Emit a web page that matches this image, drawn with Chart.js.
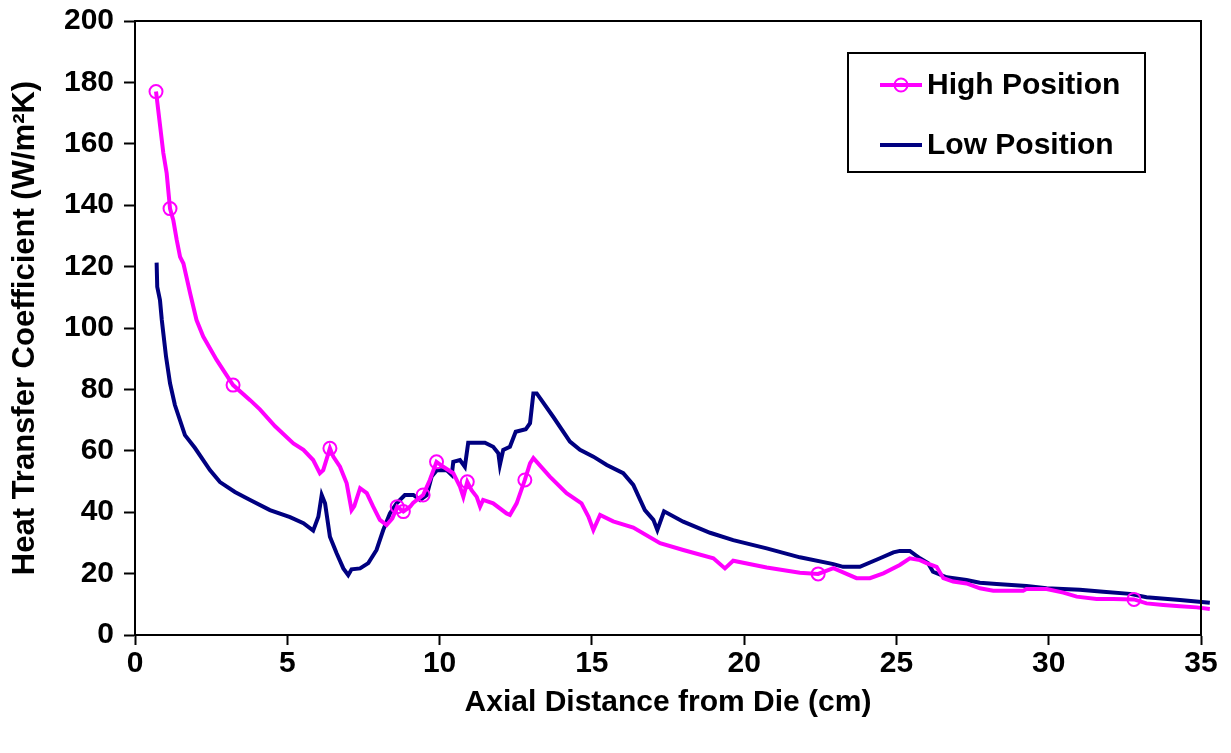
<!DOCTYPE html>
<html>
<head>
<meta charset="utf-8">
<title>Heat Transfer Coefficient</title>
<script src="https://cdn.jsdelivr.net/npm/chart.js@4"></script>
<style>
  html, body { margin: 0; padding: 0; background: #fff; }
  #wrap { position: relative; width: 1231px; height: 753px; }
</style>
</head>
<body>
<div id="wrap"><canvas id="htcChart"></canvas></div>
<script>
// values
const highX = [0.69, 0.93, 1.04, 1.15, 1.26, 1.37, 1.48, 1.59, 1.81, 2.02, 2.24, 2.68, 3.22, 3.78, 4.1, 4.6, 5.2, 5.53, 5.85, 6.07, 6.18, 6.4, 6.51, 6.73, 6.95, 7.11, 7.2, 7.39, 7.61, 7.82, 8.04, 8.26, 8.45, 8.61, 8.81, 9.03, 9.13, 9.46, 9.68, 9.9, 10.12, 10.45, 10.67, 10.78, 10.91, 11.05, 11.22, 11.33, 11.43, 11.76, 12.2, 12.31, 12.53, 12.8, 12.97, 13.08, 13.62, 14.17, 14.66, 14.89, 15.05, 15.27, 15.7, 16.36, 17.24, 18, 18.99, 19.37, 19.64, 20.74, 21.83, 22.43, 22.93, 23.69, 24.13, 24.57, 25.11, 25.44, 25.77, 25.99, 26.32, 26.54, 26.86, 27.3, 27.74, 28.18, 29.16, 29.27, 29.93, 30.48, 30.92, 31.57, 32.12, 32.8, 33.21, 33.76, 34.31, 34.86, 35.29];
const highY = [177, 157, 150.4, 138.9, 135, 128.7, 123.2, 121, 111.3, 102.6, 97.2, 89.6, 81.4, 76.5, 73.5, 68, 62.4, 60.3, 57, 52.7, 53.7, 60.8, 58.1, 54.8, 49.4, 40.7, 42, 47.8, 46.2, 41.8, 37.5, 35.8, 38, 41.8, 40.2, 41.8, 43, 45.6, 50.5, 56.4, 54.8, 52.7, 48.3, 45, 49.9, 47.2, 45, 41.8, 44, 42.9, 39.6, 39.1, 42.9, 50.5, 55.9, 57.6, 51.6, 46.2, 42.9, 38.5, 34.2, 39.1, 37, 35, 29.9, 27.7, 25, 21.7, 24.2, 22, 20.3, 19.9, 21.8, 18.5, 18.5, 20.1, 22.8, 25, 24.4, 23.4, 22.2, 18.5, 17.4, 16.8, 15.2, 14.4, 14.4, 15, 15, 13.8, 12.5, 11.7, 11.7, 11.6, 10.3, 9.8, 9.4, 9, 8.5];
const highMarkX = [0.69, 1.15, 3.22, 6.4, 8.61, 8.81, 9.46, 9.9, 10.91, 12.8, 22.43, 32.8];
const highMarkY = [177, 138.9, 81.4, 60.8, 41.8, 40.2, 45.6, 56.4, 49.9, 50.5, 19.9, 11.6];

const lowX = [0.71, 0.73, 0.82, 0.88, 0.93, 1.02, 1.15, 1.31, 1.64, 1.97, 2.46, 2.79, 3.28, 3.78, 4.43, 5.09, 5.53, 5.85, 6.02, 6.13, 6.24, 6.4, 6.62, 6.84, 7.0, 7.11, 7.39, 7.66, 7.93, 8.15, 8.37, 8.59, 8.86, 9.14, 9.36, 9.58, 9.74, 9.91, 10.23, 10.4, 10.45, 10.67, 10.83, 10.94, 11.49, 11.76, 11.93, 11.98, 12.09, 12.31, 12.5, 12.83, 12.97, 13.08, 13.19, 13.73, 14.28, 14.61, 15.05, 15.49, 16.03, 16.36, 16.74, 17.02, 17.15, 17.37, 18, 18.88, 19.64, 20.74, 21.83, 22.93, 23.25, 23.8, 24.46, 24.9, 25.11, 25.44, 25.77, 26.04, 26.2, 26.65, 27.3, 27.74, 28.29, 29.27, 29.93, 31.02, 31.79, 32.67, 33.21, 34.31, 35.29];
const lowY = [121.3, 113.4, 109.1, 102.6, 98.3, 90.6, 82, 74.9, 65.1, 60.9, 53.7, 49.8, 46.6, 44, 40.7, 38.4, 36.4, 34, 38.5, 45.6, 42.9, 32, 26.6, 21.7, 19.5, 21.4, 21.7, 23.4, 27.7, 34.2, 39.6, 42.9, 45.6, 45.6, 44, 45.6, 51.6, 53.7, 53.7, 52.1, 56.4, 57, 54.8, 62.6, 62.6, 61.3, 59.2, 55.4, 60.3, 61.3, 66.2, 67, 69, 78.7, 78.7, 71.1, 63, 60.3, 58.1, 55.4, 52.7, 48.9, 40.7, 37.5, 34.2, 40.3, 36.9, 33.3, 30.9, 28.2, 25.3, 23.1, 22.2, 22.2, 25, 26.9, 27.4, 27.4, 25, 23.4, 20.6, 18.8, 17.9, 17, 16.6, 16, 15.2, 14.7, 14.1, 13.4, 12.3, 11.4, 10.5];

const xTicks = [0, 5, 10, 15, 20, 25, 30, 35];
const yTicks = [0, 20, 40, 60, 80, 100, 120, 140, 160, 180, 200];

const seriesNames = ["High Position", "Low Position"];
const seriesColors = ["#ff00ff", "#000080"];

(function () {
  function pairs(xs, ys) {
    return xs.map(function (x, i) { return { x: x, y: ys[i] }; });
  }

  const FONT = "'Liberation Sans', Arial, sans-serif";

  // plot frame (top/right edges) and the boxed legend inside the plot
  const framePlugin = {
    id: "frameAndLegend",
    afterDraw: function (chart) {
      const ctx = chart.ctx;
      const a = chart.chartArea;
      ctx.save();
      ctx.strokeStyle = "#000";
      ctx.lineWidth = 2;
      ctx.beginPath();
      ctx.moveTo(a.left, a.top);
      ctx.lineTo(a.right, a.top);
      ctx.lineTo(a.right, a.bottom);
      ctx.stroke();

      // legend box
      const bx = 848, by = 53, bw = 297, bh = 119;
      ctx.fillStyle = "#fff";
      ctx.fillRect(bx, by, bw, bh);
      ctx.strokeRect(bx, by, bw, bh);

      ctx.font = "bold 30px " + FONT;
      ctx.textBaseline = "middle";
      ctx.textAlign = "left";
      const rows = [85, 145];
      rows.forEach(function (ry, i) {
        ctx.strokeStyle = seriesColors[i];
        ctx.lineWidth = 4;
        ctx.beginPath();
        ctx.moveTo(880, ry);
        ctx.lineTo(922, ry);
        ctx.stroke();
        if (i === 0) {
          ctx.lineWidth = 2;
          ctx.beginPath();
          ctx.arc(901, ry, 6.5, 0, Math.PI * 2);
          ctx.stroke();
        }
        ctx.fillStyle = "#000";
        ctx.fillText(seriesNames[i], 927, ry + 1);
      });
      ctx.restore();
    }
  };

  const canvas = document.getElementById("htcChart");
  new Chart(canvas, {
    type: "line",
    data: {
      datasets: [
        {
          label: seriesNames[0],
          data: pairs(highX, highY),
          borderColor: seriesColors[0],
          borderWidth: 4,
          pointRadius: 0,
          tension: 0,
          clip: false,
          order: 1
        },
        {
          label: seriesNames[0] + " markers",
          data: pairs(highMarkX, highMarkY),
          showLine: false,
          pointStyle: "circle",
          pointRadius: 6.5,
          pointBorderWidth: 2,
          pointBorderColor: seriesColors[0],
          pointBackgroundColor: "rgba(0,0,0,0)",
          clip: false,
          order: 0
        },
        {
          label: seriesNames[1],
          data: pairs(lowX, lowY),
          borderColor: seriesColors[1],
          borderWidth: 4,
          pointRadius: 0,
          tension: 0,
          clip: false,
          order: 2
        }
      ]
    },
    options: {
      responsive: true,
      maintainAspectRatio: false,
      animation: false,
      events: [],
      layout: { padding: { top: 21, right: 30, left: 0, bottom: 0 } },
      scales: {
        x: {
          type: "linear",
          min: 0,
          max: 35,
          afterBuildTicks: function (scale) {
            scale.ticks = xTicks.map(function (v) { return { value: v }; });
          },
          afterFit: function (scale) {
            scale.height = 118;
            scale.paddingLeft = 0;
            scale.paddingRight = 0;
          },
          grid: { drawOnChartArea: false, tickLength: 10, tickColor: "#000", tickWidth: 2 },
          border: { display: true, color: "#000", width: 2 },
          ticks: { color: "#000", padding: 1, maxRotation: 0, font: { family: FONT, size: 30, weight: "bold" } },
          title: {
            display: true,
            text: "Axial Distance from Die (cm)",
            color: "#000",
            padding: { top: 0, bottom: 32 },
            font: { family: FONT, size: 30, weight: "bold" }
          }
        },
        y: {
          min: 0,
          max: 200,
          afterBuildTicks: function (scale) {
            scale.ticks = yTicks.map(function (v) { return { value: v }; });
          },
          afterFit: function (scale) {
            scale.width = 135;
            scale.paddingTop = 0;
            scale.paddingBottom = 0;
          },
          grid: { drawOnChartArea: false, tickLength: 11, tickColor: "#000", tickWidth: 2 },
          border: { display: true, color: "#000", width: 2 },
          ticks: { color: "#000", padding: 10, font: { family: FONT, size: 30, weight: "bold" } },
          title: {
            display: true,
            text: "Heat Transfer Coefficient (W/m²K)",
            color: "#000",
            padding: { top: 7, bottom: 0 },
            font: { family: FONT, size: 31, weight: "bold" }
          }
        }
      },
      plugins: {
        legend: { display: false },
        tooltip: { enabled: false }
      }
    },
    plugins: [framePlugin]
  });
}());
</script>
</body>
</html>
